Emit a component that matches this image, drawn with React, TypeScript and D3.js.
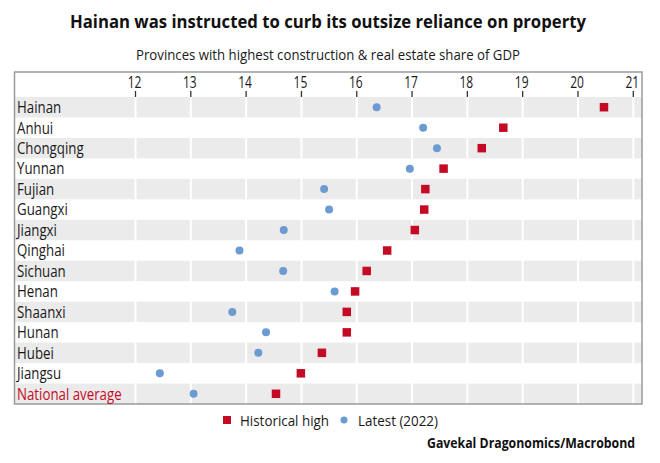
import React from "react";
import * as d3 from "d3";

const categories = [
  "Hainan", "Anhui", "Chongqing", "Yunnan", "Fujian", "Guangxi", "Jiangxi",
  "Qinghai", "Sichuan", "Henan", "Shaanxi", "Hunan", "Hubei", "Jiangsu", "National average",
];
const historicalHigh = [20.47, 18.65, 18.26, 17.57, 17.24, 17.22, 17.05, 16.55, 16.18, 15.97, 15.82, 15.82, 15.37, 14.99, 14.54];
const latest2022 = [16.36, 17.2, 17.45, 16.96, 15.41, 15.5, 14.68, 13.88, 14.67, 15.6, 13.75, 14.36, 14.22, 12.44, 13.05];
const tickValues = [12, 13, 14, 15, 16, 17, 18, 19, 20, 21];

const title = "Hainan was instructed to curb its outsize reliance on property";
const subtitle = "Provinces with highest construction & real estate share of GDP";
const legendLabels = ["Historical high", "Latest (2022)"];
const source = "Gavekal Dragonomics/Macrobond";

const W = 660;
const H = 463;
const RED = "#c50a26";
const BLUE = "#6c9bd2";
const GRAY = "#ebebeb";
const TEXT = "#1a1a1a";
const FONT = "'Open Sans', 'Noto Sans', sans-serif";

function SText(props: {
  x: number;
  y: number;
  sx: number;
  size: number;
  fill?: string;
  anchor?: string;
  weight?: number;
  children: React.ReactNode;
}) {
  return (
    <text
      transform={`translate(${props.x},${props.y}) scale(${props.sx},1)`}
      fontSize={props.size}
      fill={props.fill ?? TEXT}
      textAnchor={props.anchor ?? "start"}
      fontWeight={props.weight ?? 400}
    >
      {props.children}
    </text>
  );
}

export default function App() {
  const frame = { left: 14.5, right: 642, top: 72, bottom: 404 };
  const x = d3.scaleLinear().domain([12, 21]).range([135.5, 633.3]);
  const y = d3.scaleBand<string>().domain(categories).range([97, 404]).padding(0);
  const bw = y.bandwidth();
  const sq = 8.5;

  return (
    <svg
      width={W}
      height={H}
      style={{ position: "absolute", left: 0, top: 0, display: "block", background: "#fff" }}
      fontFamily={FONT}
    >
      <text x={70} y={27.7} fontSize={17} fontWeight={700} fill="#111" textLength={516} lengthAdjust="spacingAndGlyphs">
        {title}
      </text>
      <text x={136} y={60} fontSize={14.5} fill={TEXT} textLength={384} lengthAdjust="spacingAndGlyphs">
        {subtitle}
      </text>

      {/* row stripes */}
      {categories.map((c, i) =>
        i % 2 === 0 ? (
          <rect key={c} x={frame.left} y={y(c)!} width={frame.right - frame.left} height={bw} fill={GRAY} />
        ) : null
      )}

      {/* gridlines */}
      {tickValues.map((t) => (
        <line key={"g" + t} x1={x(t)} x2={x(t)} y1={97} y2={frame.bottom} stroke="#fff" strokeWidth={2} />
      ))}

      {/* ticks */}
      {tickValues.map((t) => (
        <g key={"t" + t}>
          <line x1={x(t)} x2={x(t)} y1={91} y2={97} stroke="#333" strokeWidth={1.3} />
          <SText x={x(t) - 1} y={88.3} sx={0.75} size={16} anchor="middle">
            {t}
          </SText>
        </g>
      ))}

      {/* frame */}
      <rect
        x={frame.left}
        y={frame.top}
        width={frame.right - frame.left}
        height={frame.bottom - frame.top}
        fill="none"
        stroke="#9a9a9a"
        strokeWidth={1.5}
      />

      {/* row labels */}
      {categories.map((c, i) => (
        <SText
          key={"l" + c}
          x={17}
          y={y(c)! + bw / 2 + 5.8}
          sx={0.83}
          size={16}
          fill={i === categories.length - 1 ? RED : TEXT}
        >
          {c}
        </SText>
      ))}

      {/* markers */}
      {categories.map((c, i) => (
        <g key={"m" + c}>
          <circle cx={x(latest2022[i])} cy={y(c)! + bw / 2} r={4} fill={BLUE} />
          <rect x={x(historicalHigh[i]) - sq / 2} y={y(c)! + bw / 2 - sq / 2} width={sq} height={sq} fill={RED} />
        </g>
      ))}

      {/* legend */}
      <rect x={223} y={416} width={8} height={8} fill={RED} />
      <text x={240} y={425.5} fontSize={15} fill={TEXT} textLength={89} lengthAdjust="spacingAndGlyphs">
        {legendLabels[0]}
      </text>
      <circle cx={344} cy={420} r={3.5} fill={BLUE} />
      <text x={358} y={425.5} fontSize={15} fill={TEXT} textLength={80} lengthAdjust="spacingAndGlyphs">
        {legendLabels[1]}
      </text>

      <text x={427} y={448} fontSize={13.5} fontWeight={700} fill="#111" textLength={208} lengthAdjust="spacingAndGlyphs">
        {source}
      </text>
    </svg>
  );
}
